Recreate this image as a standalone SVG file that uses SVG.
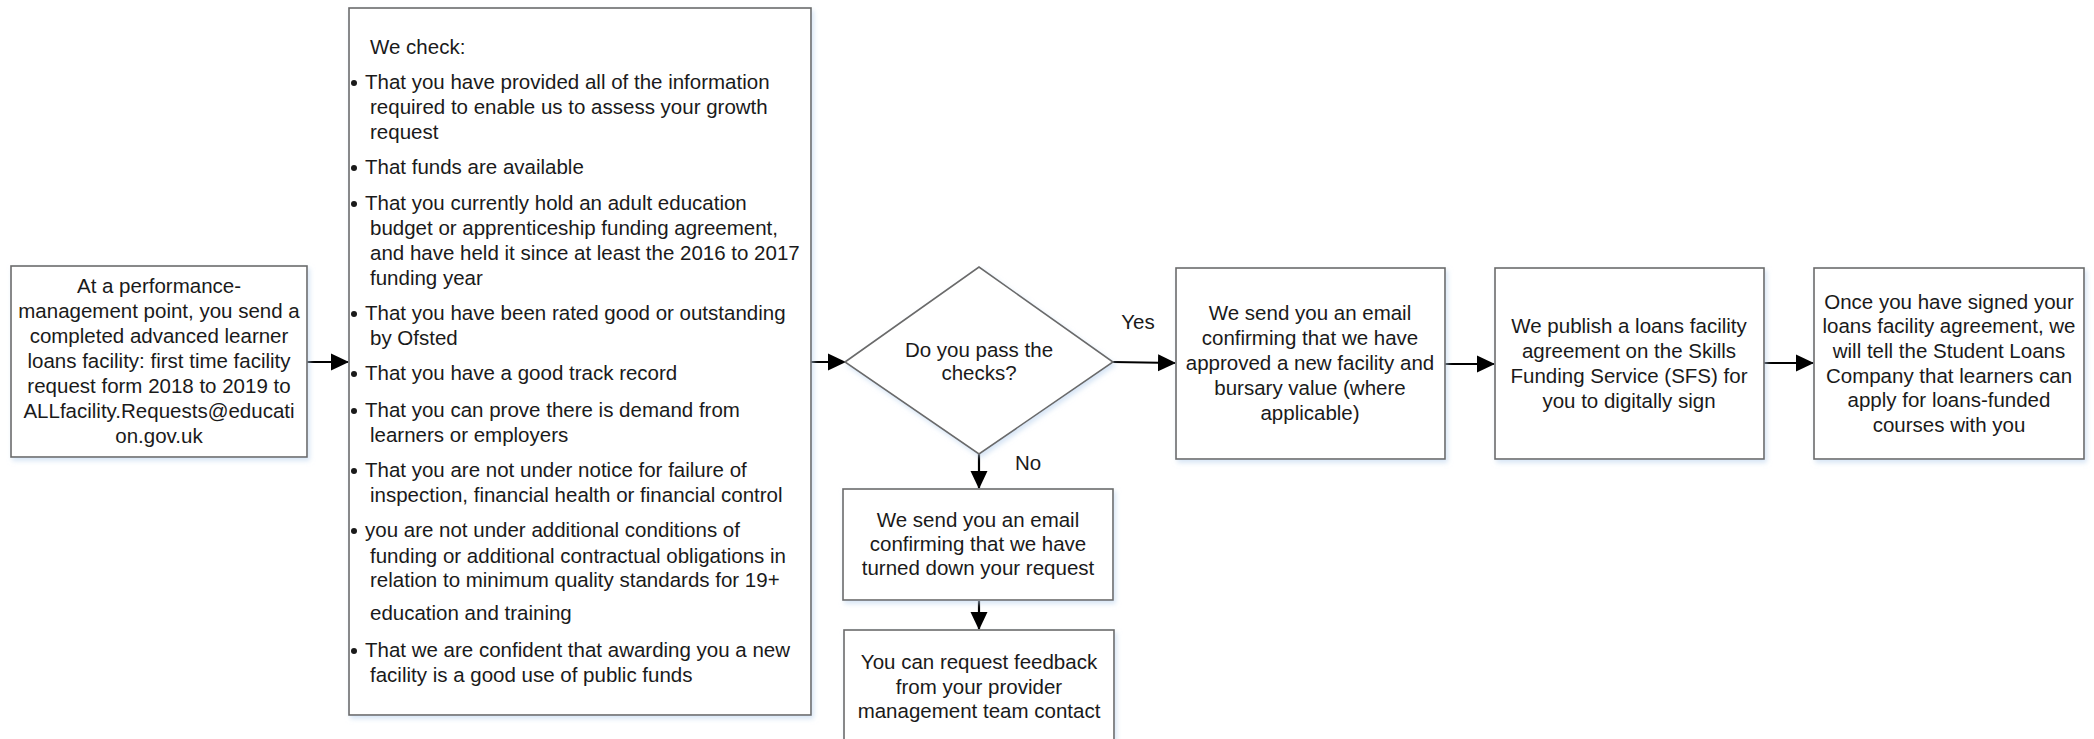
<svg xmlns="http://www.w3.org/2000/svg" width="2094" height="739" viewBox="0 0 2094 739">
<style>
.box{fill:#ffffff;stroke:#6b6b6b;stroke-width:1.6;filter:url(#sh)}
.t{font-family:"Liberation Sans",Arial,sans-serif;font-size:20.5px;fill:#1a1a1a}
.c{text-anchor:middle}
.conn{stroke:#000;stroke-width:2.2;fill:none;marker-end:url(#ah)}
.bul{fill:#1a1a1a}
</style>
<defs>
<filter id="sh" x="-5%" y="-5%" width="115%" height="115%">
<feDropShadow dx="2" dy="3" stdDeviation="2.5" flood-color="#bcd3ee" flood-opacity="0.6"/>
</filter>
<marker id="ah" markerUnits="userSpaceOnUse" markerWidth="18" markerHeight="18" refX="17" refY="9" orient="auto">
<path d="M0,0.5 L18,9 L0,17.5 z" fill="#000"/>
</marker>
</defs>
<rect width="2094" height="739" fill="#ffffff"/>

<g id="connectors">
<line class="conn" x1="307" y1="362" x2="348" y2="362"/>
<line class="conn" x1="811" y1="362" x2="845" y2="362"/>
<line class="conn" x1="1113" y1="362" x2="1175" y2="363"/>
<line class="conn" x1="1445" y1="364" x2="1494" y2="364"/>
<line class="conn" x1="1764" y1="363" x2="1813" y2="363"/>
<line class="conn" x1="979" y1="454" x2="979" y2="488"/>
<line class="conn" x1="979" y1="601" x2="979" y2="629"/>
<text class="t c" x="1138" y="329">Yes</text>
<text class="t c" x="1028" y="470">No</text>
</g>

<g id="start">
<rect class="box" x="11" y="266" width="296" height="191"/>
<text class="t c" x="159" y="293">At a performance-</text>
<text class="t c" x="159" y="318">management point, you send a</text>
<text class="t c" x="159" y="343">completed advanced learner</text>
<text class="t c" x="159" y="368">loans facility: first time facility</text>
<text class="t c" x="159" y="393">request form 2018 to 2019 to</text>
<text class="t c" x="159" y="418">ALLfacility.Requests@educati</text>
<text class="t c" x="159" y="443">on.gov.uk</text>
</g>

<g id="checks">
<rect class="box" x="349" y="8" width="462" height="707"/>
<text class="t" x="370" y="54">We check:</text>
<circle class="bul" cx="354" cy="83" r="3"/>
<text class="t" x="365" y="89">That you have provided all of the information</text>
<text class="t" x="370" y="114">required to enable us to assess your growth</text>
<text class="t" x="370" y="139">request</text>
<circle class="bul" cx="354" cy="168" r="3"/>
<text class="t" x="365" y="174">That funds are available</text>
<circle class="bul" cx="354" cy="204" r="3"/>
<text class="t" x="365" y="210">That you currently hold an adult education</text>
<text class="t" x="370" y="235">budget or apprenticeship funding agreement,</text>
<text class="t" x="370" y="260">and have held it since at least the 2016 to 2017</text>
<text class="t" x="370" y="285">funding year</text>
<circle class="bul" cx="354" cy="314" r="3"/>
<text class="t" x="365" y="320">That you have been rated good or outstanding</text>
<text class="t" x="370" y="345">by Ofsted</text>
<circle class="bul" cx="354" cy="374" r="3"/>
<text class="t" x="365" y="380">That you have a good track record</text>
<circle class="bul" cx="354" cy="411" r="3"/>
<text class="t" x="365" y="417">That you can prove there is demand from</text>
<text class="t" x="370" y="442">learners or employers</text>
<circle class="bul" cx="354" cy="471" r="3"/>
<text class="t" x="365" y="477">That you are not under notice for failure of</text>
<text class="t" x="370" y="502">inspection, financial health or financial control</text>
<circle class="bul" cx="354" cy="531" r="3"/>
<text class="t" x="365" y="537">you are not under additional conditions of</text>
<text class="t" x="370" y="563">funding or additional contractual obligations in</text>
<text class="t" x="370" y="587">relation to minimum quality standards for 19+</text>
<text class="t" x="370" y="620">education and training</text>
<circle class="bul" cx="354" cy="651" r="3"/>
<text class="t" x="365" y="657">That we are confident that awarding you a new</text>
<text class="t" x="370" y="682">facility is a good use of public funds</text>
</g>

<g id="decision">
<polygon class="box" points="845,362 979,267 1113,362 979,454"/>
<text class="t c" x="979" y="357">Do you pass the</text>
<text class="t c" x="979" y="380">checks?</text>
</g>

<g id="approved">
<rect class="box" x="1176" y="268" width="269" height="191"/>
<text class="t c" x="1310" y="320">We send you an email</text>
<text class="t c" x="1310" y="345">confirming that we have</text>
<text class="t c" x="1310" y="370">approved a new facility and</text>
<text class="t c" x="1310" y="395">bursary value (where</text>
<text class="t c" x="1310" y="420">applicable)</text>
</g>

<g id="publish">
<rect class="box" x="1495" y="268" width="269" height="191"/>
<text class="t c" x="1629" y="333">We publish a loans facility</text>
<text class="t c" x="1629" y="358">agreement on the Skills</text>
<text class="t c" x="1629" y="383">Funding Service (SFS) for</text>
<text class="t c" x="1629" y="408">you to digitally sign</text>
</g>

<g id="tell">
<rect class="box" x="1814" y="268" width="270" height="191"/>
<text class="t c" x="1949" y="309">Once you have signed your</text>
<text class="t c" x="1949" y="333">loans facility agreement, we</text>
<text class="t c" x="1949" y="358">will tell the Student Loans</text>
<text class="t c" x="1949" y="383">Company that learners can</text>
<text class="t c" x="1949" y="407">apply for loans-funded</text>
<text class="t c" x="1949" y="432">courses with you</text>
</g>

<g id="declined">
<rect class="box" x="843" y="489" width="270" height="111"/>
<text class="t c" x="978" y="527">We send you an email</text>
<text class="t c" x="978" y="551">confirming that we have</text>
<text class="t c" x="978" y="575">turned down your request</text>
</g>

<g id="feedback">
<rect class="box" x="844" y="630" width="270" height="130"/>
<text class="t c" x="979" y="669">You can request feedback</text>
<text class="t c" x="979" y="694">from your provider</text>
<text class="t c" x="979" y="718">management team contact</text>
</g>
</svg>
